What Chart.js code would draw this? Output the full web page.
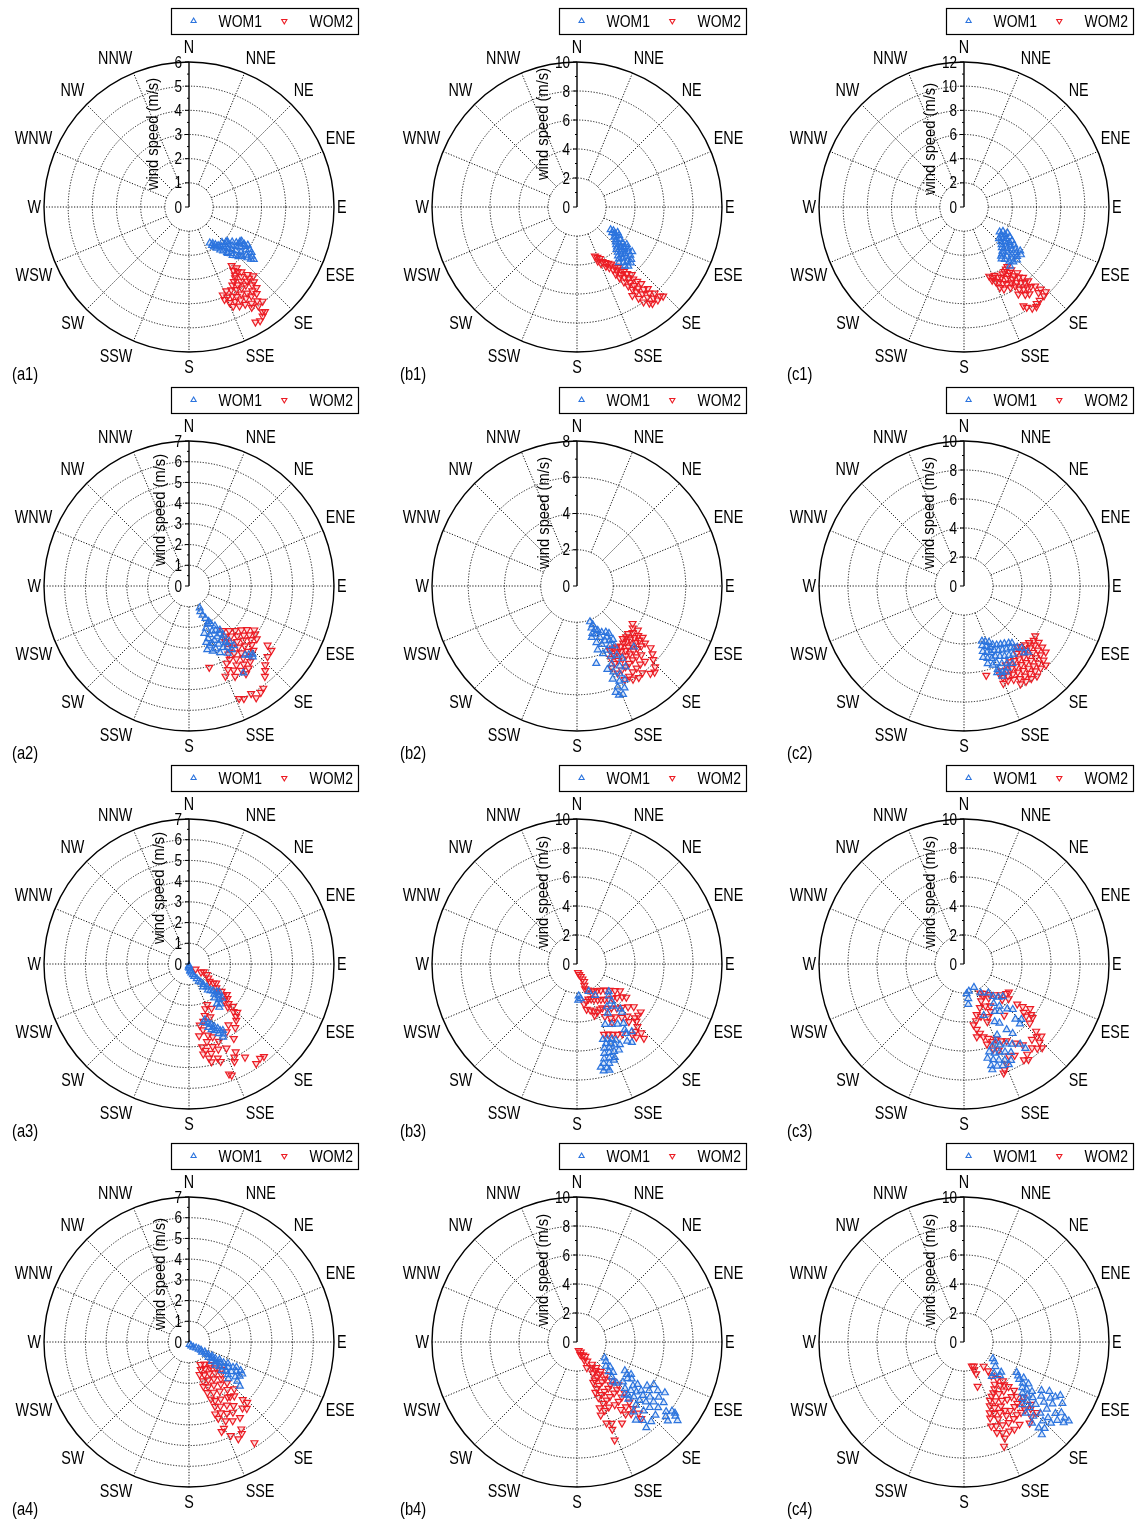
<!DOCTYPE html>
<html>
<head>
<meta charset="utf-8">
<title>Wind direction and speed, WOM1 vs WOM2</title>
<script src="https://cdn.jsdelivr.net/npm/chart.js@4.4.1/dist/chart.umd.min.js"></script>
<style>
  html, body { margin: 0; padding: 0; background: #fff; overflow: hidden; }
  #page { position: relative; width: 1146px; height: 1519px; }
  .panel { position: absolute; }
</style>
</head>
<body>
<div id="page"></div>
<script>
// ---- panel setup -------------------------------------------------------
const panelIds   = ['a1', 'b1', 'c1', 'a2', 'b2', 'c2', 'a3', 'b3', 'c3', 'a4', 'b4', 'c4'];
const speedMax   = [6, 10, 12, 7, 8, 10, 7, 10, 10, 7, 10, 10];   // outer ring (m/s)
const speedStep  = [1, 2, 2, 1, 2, 2, 1, 2, 2, 1, 2, 2];          // ring spacing (m/s)
const compass    = ['N', 'NNE', 'NE', 'ENE', 'E', 'ESE', 'SE', 'SSE',
                    'S', 'SSW', 'SW', 'WSW', 'W', 'WNW', 'NW', 'NNW'];
const seriesNames = ['WOM1', 'WOM2'];
const axisTitle  = 'wind speed (m/s)';

// ---- observations: [direction (deg from N, clockwise), speed (m/s)] ----
const a1Wom1 = [[150,1.72],[149,1.85],[148,1.95],[147,1.8],[146,2.05],[145,1.9],[144,2.2],[143,2.0],[142,2.3],[141,2.1],[140,2.45],[139,2.2],[138,2.6],[137,2.35],[136,2.15],[136,2.8],[135,2.5],[134,2.25],[134,2.95],[133,2.65],[132,2.4],[132,2.15],[131,2.85],[130,2.55],[130,3.1],[129,2.3],[128,2.7],[128,3.3],[127,2.95],[127,2.45],[126,3.2],[126,2.6],[125,2.85],[125,3.05],[124,2.55],[124,2.75],[123,2.9],[123,2.6],[129,3.45],[130,3.35],[131,3.2],[133,3.0],[135,2.9],[138,2.7],[140,2.5],[137,2.0],[133,2.1]];
const a1Wom2 = [[144,3.0],[142,3.2],[143,3.35],[145,3.2],[146,3.4],[141,3.45],[139,3.7],[137,3.9],[140,3.85],[143,3.6],[147,3.5],[149,3.6],[151,3.7],[148,3.8],[145,3.75],[142,3.9],[139,4.1],[141,4.15],[144,4.0],[147,4.0],[150,3.95],[153,3.85],[156,3.8],[159,3.9],[157,4.05],[154,4.1],[152,4.2],[149,4.2],[146,4.3],[143,4.35],[140,4.35],[142,4.55],[145,4.5],[148,4.45],[151,4.4],[154,4.35],[157,4.3],[159,4.1],[156,4.5],[153,4.6],[150,4.65],[147,4.75],[144,4.8],[142,4.95],[145,5.0],[148,4.9],[145,5.3],[146,5.45],[148,5.55],[150,5.5],[144,5.35]];

const b1Wom1 = [[124,2.8],[123,3.0],[126,3.0],[125,3.2],[122,3.3],[127,3.35],[124,3.5],[129,3.3],[130,3.5],[127,3.7],[132,3.6],[134,3.75],[131,3.9],[128,4.0],[135,3.9],[133,4.1],[130,4.25],[137,4.0],[127,4.3],[129,4.5],[132,4.4],[135,4.3],[138,4.2],[131,4.7],[134,4.6],[137,4.5],[140,4.4],[129,4.9],[132,4.95],[135,4.85],[138,4.75],[141,4.6],[143,4.8],[140,5.0],[137,5.1],[134,5.2],[139,5.4],[136,5.35],[141,5.25]];
const b1Wom2 = [[160,3.6],[158,3.75],[156,3.9],[159,4.0],[155,4.15],[157,4.25],[153,4.3],[151,4.45],[154,4.55],[149,4.6],[152,4.75],[147,4.85],[150,5.0],[146,5.05],[148,5.2],[145,5.3],[150,5.35],[144,5.5],[147,5.55],[149,5.7],[143,5.75],[146,5.85],[141,6.0],[144,6.05],[148,6.1],[142,6.3],[145,6.35],[147,6.5],[141,6.6],[144,6.7],[146,6.85],[140,6.9],[143,7.0],[148,7.2],[145,7.15],[141,7.3],[139,7.45],[143,7.5],[146,7.6],[140,7.75],[142,7.9],[145,8.0],[138,8.0],[140,8.2],[143,8.3],[137,8.4],[139,8.5],[142,8.45],[136,8.55]];

const c1Wom1 = [[125,3.6],[122,3.8],[127,3.85],[121,4.2],[124,4.1],[129,4.0],[132,3.9],[133,4.2],[127,4.35],[123,4.5],[130,4.45],[135,4.4],[137,4.6],[132,4.7],[128,4.8],[125,4.85],[139,4.85],[134,4.95],[130,5.05],[127,5.2],[141,5.0],[143,5.1],[136,5.2],[132,5.35],[129,5.5],[139,5.4],[142,5.5],[135,5.6],[131,5.75],[128,5.9],[133,6.0],[137,5.8],[140,5.85],[130,6.15],[135,6.2],[142,6.2],[138,6.1],[144,5.3]];
const c1Wom2 = [[160,6.1],[158,6.3],[156,6.2],[159,6.5],[154,6.45],[157,6.7],[152,6.6],[155,6.85],[150,6.4],[148,6.3],[146,6.2],[144,6.1],[153,7.1],[156,7.3],[154,7.55],[151,7.3],[149,6.9],[147,6.75],[145,6.6],[143,6.5],[141,7.0],[148,7.4],[146,7.2],[144,7.05],[142,7.35],[140,7.6],[150,7.7],[147,7.8],[145,7.6],[143,7.85],[141,8.0],[139,8.1],[146,8.2],[144,8.4],[142,8.5],[140,8.6],[138,8.8],[148,8.5],[145,8.85],[143,9.0],[137,9.3],[139,9.4],[136,9.75],[138,9.9],[141,9.95],[143,10.0],[146,10.1],[148,9.8],[149,9.55],[144,10.2]];

const a2Wom1 = [[154,1.18],[156,1.35],[155,1.55],[153,1.75],[151,1.95],[150,2.1],[154,2.05],[147,2.3],[158,2.2],[162,2.4],[145,2.6],[149,2.5],[153,2.45],[157,2.55],[160,2.7],[163,2.85],[147,2.75],[151,2.8],[155,2.9],[158,3.0],[161,3.05],[164,3.2],[149,3.05],[153,3.15],[145,2.9],[157,3.3],[160,3.35],[147,3.25],[151,3.4],[155,3.55],[148,3.5],[144,3.3],[146,3.7],[150,3.75],[143,3.6],[137,4.5],[139,4.4],[138,4.6],[148,4.95],[141,4.3]];
const a2Wom2 = [[143,2.7],[138,2.9],[134,3.1],[130,3.3],[127,3.5],[124,3.8],[126,3.95],[129,3.75],[132,3.55],[136,3.35],[140,3.15],[144,3.0],[147,3.2],[143,3.4],[139,3.55],[135,3.7],[131,3.95],[128,4.15],[133,4.15],[137,3.95],[141,3.8],[145,3.6],[148,3.55],[150,3.8],[146,3.9],[142,4.1],[138,4.25],[135,4.4],[139,4.5],[143,4.35],[147,4.2],[151,4.05],[154,4.15],[149,4.45],[145,4.6],[141,4.7],[144,4.9],[148,4.8],[152,4.6],[155,4.45],[158,4.7],[153,4.9],[147,5.05],[166,4.05],[127,4.75],[128,5.05],[132,5.1],[136,5.3],[140,5.7],[138,5.5],[154,6.05],[150,6.0],[149,6.3],[146,6.2],[144,6.1],[156,5.95]];

const b2Wom1 = [[160,2.1],[158,2.3],[161,2.45],[157,2.6],[162,2.75],[164,2.95],[159,2.85],[155,2.7],[152,2.9],[148,3.0],[146,3.15],[150,3.25],[156,3.1],[161,3.3],[146,3.55],[149,3.5],[153,3.4],[157,3.5],[162,3.7],[151,3.75],[155,3.9],[148,3.9],[159,4.0],[137,4.6],[150,4.4],[154,4.3],[166,4.4],[148,4.7],[156,4.7],[160,4.9],[152,5.0],[149,5.2],[157,5.15],[154,5.4],[159,5.5],[156,5.75],[158,6.0],[155,6.2],[157,6.5],[159,6.45],[160,6.25],[153,5.8]];
const b2Wom2 = [[124,3.7],[127,3.85],[130,4.0],[126,4.15],[133,3.85],[136,3.9],[139,3.85],[129,4.35],[132,4.25],[135,4.15],[138,4.1],[141,4.05],[144,4.1],[147,4.0],[150,3.95],[153,4.0],[128,4.6],[131,4.55],[134,4.5],[137,4.45],[140,4.4],[143,4.45],[146,4.35],[149,4.3],[152,4.35],[155,4.4],[130,4.9],[133,4.85],[136,4.8],[139,4.75],[142,4.75],[145,4.7],[148,4.75],[151,4.7],[154,4.75],[157,4.9],[130,5.3],[132,5.6],[134,5.85],[137,5.2],[140,5.1],[143,5.1],[146,5.15],[149,5.2],[152,5.25],[155,5.3],[138,5.6],[141,5.55],[144,5.6],[147,5.65],[150,5.75],[153,5.8],[143,6.0],[146,6.1],[149,6.0],[138,6.4],[136,6.2],[140,6.3]];

const c2Wom1 = [[162,4.0],[159,4.1],[156,4.25],[163,4.3],[160,4.45],[157,4.6],[154,4.5],[151,4.65],[148,4.75],[145,4.85],[142,5.0],[140,5.15],[164,4.7],[161,4.85],[158,4.95],[155,4.9],[152,5.05],[149,5.15],[146,5.25],[143,5.35],[141,5.5],[139,5.6],[137,5.85],[138,6.2],[165,5.1],[162,5.25],[159,5.35],[156,5.3],[153,5.45],[150,5.6],[147,5.7],[144,5.8],[163,5.6],[160,5.8],[157,5.75],[154,5.95],[151,6.1],[148,6.3],[158,6.2],[156,6.5],[159,6.4],[157,6.75],[154,6.6],[136,6.35],[152,6.4]];
const c2Wom2 = [[125,6.0],[128,6.1],[131,5.95],[134,5.85],[137,5.7],[139,5.55],[127,6.45],[130,6.35],[133,6.25],[136,6.15],[139,6.0],[142,5.9],[128,6.85],[131,6.75],[134,6.6],[137,6.5],[140,6.4],[143,6.3],[146,6.2],[149,6.1],[152,6.15],[129,7.25],[132,7.1],[135,7.0],[138,6.9],[141,6.8],[144,6.7],[147,6.6],[150,6.55],[153,6.5],[156,6.4],[158,6.6],[133,7.5],[136,7.4],[139,7.3],[142,7.2],[145,7.1],[148,7.0],[151,6.95],[154,6.9],[157,6.85],[134,7.85],[137,7.75],[140,7.65],[143,7.55],[146,7.5],[149,7.45],[152,7.3],[155,7.2],[158,7.25],[141,8.0],[144,7.9],[147,7.85],[150,7.8],[166,6.35]];

const a3Wom1 = [[180,0.08],[175,0.2],[170,0.35],[165,0.45],[160,0.55],[157,0.65],[152,0.8],[150,0.95],[147,1.05],[145,1.2],[148,1.3],[142,1.4],[144,1.55],[141,1.65],[138,1.75],[135,1.9],[140,1.9],[133,2.0],[137,2.1],[143,2.05],[136,2.3],[140,2.25],[145,2.35],[142,2.45],[145,2.55],[164,2.8],[166,2.9],[162,3.0],[160,3.1],[163,3.2],[158,3.25],[161,3.35],[156,3.4],[159,3.45],[155,3.55],[157,3.65],[154,3.75],[155,3.9],[153,3.6],[168,0.3],[185,0.15]];
const a3Wom2 = [[128,0.4],[118,0.8],[124,0.7],[126,1.15],[121,1.0],[130,1.3],[128,1.5],[131,1.75],[125,1.6],[134,1.9],[130,2.05],[133,2.25],[129,2.35],[132,2.5],[136,2.45],[135,2.7],[138,2.8],[134,2.95],[137,3.15],[138,3.4],[135,3.3],[140,3.55],[147,3.5],[151,3.75],[149,4.2],[144,3.8],[156,2.15],[160,2.3],[153,2.4],[163,2.6],[158,2.75],[166,2.85],[170,3.0],[168,3.25],[172,3.5],[165,3.55],[162,3.7],[167,3.85],[171,4.05],[159,4.0],[164,4.15],[169,4.25],[161,4.35],[166,4.45],[156,4.45],[171,4.4],[168,4.65],[163,4.75],[167,4.85],[162,4.95],[152,4.8],[155,5.2],[154,5.0],[149,5.25],[146,5.8],[141,5.75],[143,5.7],[160,5.65],[159,5.75]];

const b3Wom1 = [[177,2.2],[174,2.4],[178,2.5],[157,2.05],[150,2.5],[131,2.9],[135,3.1],[137,3.5],[139,3.85],[145,3.6],[148,4.0],[136,4.3],[137,4.55],[155,4.6],[150,4.8],[146,5.0],[142,5.2],[144,5.6],[145,5.85],[141,6.0],[145,6.6],[147,6.35],[161,5.5],[158,5.6],[155,5.7],[160,5.85],[157,5.95],[153,5.9],[162,6.1],[159,6.2],[155,6.15],[152,6.3],[163,6.45],[160,6.5],[157,6.55],[154,6.6],[164,6.8],[161,6.85],[158,6.95],[165,7.1],[162,7.2],[167,7.3],[164,7.45],[166,7.6],[163,7.65],[159,7.1]];
const b3Wom2 = [[173,0.6],[168,0.75],[163,0.9],[160,1.1],[158,1.3],[161,1.55],[162,1.8],[157,1.95],[153,2.25],[148,2.2],[143,2.3],[138,2.45],[133,2.65],[129,2.9],[125,3.2],[122,3.5],[170,2.8],[166,2.65],[162,2.55],[158,2.6],[154,2.7],[150,2.85],[146,2.95],[142,3.1],[138,3.25],[134,3.4],[130,3.6],[126,3.85],[124,4.1],[168,3.2],[164,3.3],[160,3.45],[161,3.75],[157,3.6],[153,3.5],[150,3.5],[146,3.7],[142,3.85],[138,4.1],[134,4.3],[130,4.6],[127,4.9],[127,5.5],[130,5.5],[133,5.45],[152,4.1],[148,4.4],[149,4.7],[144,4.5],[140,4.8],[136,5.0],[138,5.35],[134,5.7],[136,6.0],[139,6.15],[137,6.5],[138,6.9],[141,6.5],[142,6.2],[159,5.2],[156,5.3],[153,5.45],[150,5.6],[147,5.75]];

const c3Wom1 = [[157,1.75],[170,1.9],[175,2.05],[173,2.4],[174,2.8],[150,2.3],[140,2.6],[130,3.5],[134,3.3],[138,3.0],[143,3.4],[140,3.8],[143,4.1],[147,3.9],[136,4.3],[133,4.6],[159,3.8],[152,4.5],[149,4.75],[137,5.2],[137,5.65],[134,5.5],[147,5.4],[145,5.85],[155,5.4],[158,5.8],[161,6.0],[156,6.1],[152,6.25],[149,6.45],[145,6.75],[144,7.2],[164,6.3],[161,6.5],[158,6.55],[155,6.7],[152,6.9],[166,6.7],[163,6.9],[160,7.05],[157,7.2],[154,7.4],[165,7.25],[162,7.4],[165,7.55],[159,7.5],[156,7.6]];
const c3Wom2 = [[151,2.3],[146,2.45],[140,2.75],[135,3.0],[130,3.3],[125,3.55],[122,3.65],[149,2.6],[144,2.9],[133,3.6],[128,3.9],[155,2.8],[160,3.2],[153,3.25],[148,3.4],[151,3.75],[155,4.0],[158,4.3],[162,3.8],[166,3.6],[168,4.0],[171,4.25],[169,4.6],[167,4.9],[170,5.1],[165,5.2],[162,5.4],[164,5.75],[160,5.7],[157,5.65],[154,5.9],[151,6.05],[142,4.5],[127,4.6],[126,5.0],[129,5.3],[124,5.5],[127,5.8],[130,5.6],[132,6.1],[128,6.0],[133,6.8],[135,7.1],[138,7.0],[133,7.3],[136,7.5],[139,7.7],[137,7.9],[141,7.45],[144,6.9],[147,6.5],[145,7.6],[148,7.8],[146,7.95],[151,7.2],[154,7.05],[157,7.5],[160,8.0],[159,7.8],[161,6.2],[158,6.4]];

const a4Wom1 = [[165,0.12],[150,0.22],[140,0.33],[130,0.45],[126,0.58],[124,0.7],[128,0.8],[122,0.9],[126,1.0],[123,1.12],[128,1.2],[121,1.3],[125,1.35],[130,1.45],[122,1.5],[127,1.6],[131,1.7],[120,1.7],[124,1.8],[129,1.9],[121,1.95],[126,2.05],[131,2.1],[119,2.15],[123,2.25],[128,2.3],[120,2.45],[125,2.5],[130,2.45],[118,2.6],[122,2.7],[127,2.8],[119,2.85],[124,2.95],[129,3.0],[131,3.25],[121,3.0],[133,2.6]];
const a4Wom2 = [[153,1.22],[145,1.3],[137,1.5],[130,2.05],[134,1.8],[141,1.6],[149,1.5],[157,1.45],[162,1.65],[155,1.75],[147,1.8],[140,1.95],[135,2.2],[160,2.0],[153,2.05],[146,2.15],[139,2.35],[162,2.25],[157,2.35],[150,2.4],[143,2.55],[137,2.7],[160,2.6],[154,2.7],[148,2.8],[141,2.95],[136,3.15],[159,2.95],[156,3.1],[151,3.15],[145,3.25],[140,3.4],[143,3.3],[158,3.35],[154,3.45],[149,3.55],[137,3.8],[136,4.05],[139,4.25],[141,4.1],[145,3.75],[160,3.7],[156,3.75],[152,3.9],[148,4.0],[159,3.95],[155,4.2],[151,4.35],[146,4.4],[158,4.5],[156,4.95],[153,5.25],[150,5.1],[149,4.9],[147,5.8],[160,4.6]];

const b4Wom1 = [[120,2.2],[124,2.4],[130,2.6],[127,2.85],[133,3.0],[130,3.25],[135,3.4],[138,3.7],[136,3.95],[121,3.85],[123,4.1],[121,4.35],[124,4.55],[126,4.3],[131,4.2],[134,4.6],[138,4.9],[136,5.1],[132,5.0],[128,4.9],[125,5.1],[130,5.35],[134,5.45],[138,5.3],[127,5.55],[122,5.7],[119,6.05],[124,6.0],[129,5.85],[133,5.9],[137,5.95],[141,6.2],[131,6.3],[127,6.3],[121,6.5],[120,7.0],[124,6.8],[128,6.7],[132,6.75],[136,6.6],[143,6.75],[140,7.05],[125,7.3],[129,7.2],[133,7.4],[141,7.6],[137,7.5],[128,7.8],[126,8.1],[130,8.0],[127,8.5],[128,8.8],[126,8.35],[131,8.3]];
const b4Wom2 = [[169,0.6],[160,0.75],[165,0.9],[155,1.0],[150,1.15],[158,1.35],[152,1.5],[146,1.85],[159,1.9],[150,2.05],[143,2.2],[147,2.35],[153,2.4],[141,2.6],[145,2.7],[150,2.8],[155,2.9],[158,3.0],[139,3.0],[143,3.2],[148,3.25],[153,3.35],[157,3.5],[160,3.7],[138,3.6],[142,3.75],[146,3.85],[151,3.9],[155,4.0],[159,4.1],[136,4.1],[140,4.3],[144,4.35],[149,4.4],[153,4.5],[157,4.6],[161,4.8],[137,4.8],[141,4.9],[145,5.0],[149,5.05],[154,5.0],[158,5.1],[139,5.5],[143,5.6],[147,5.55],[140,6.0],[139,6.5],[140,6.9],[143,6.2],[146,6.0],[151,6.4],[160,5.95],[157,6.1],[158,6.5],[159,7.25],[162,5.3]];

const c4Wom1 = [[120,2.3],[123,2.5],[128,2.75],[136,3.0],[141,3.05],[133,3.4],[129,3.3],[120,4.2],[122,4.4],[124,4.6],[121,4.8],[125,4.95],[123,5.3],[127,5.4],[131,5.35],[128,5.1],[134,5.6],[130,5.7],[126,5.8],[137,5.9],[133,6.0],[129,6.1],[122,6.3],[120,6.8],[125,6.5],[131,6.55],[135,6.4],[139,6.5],[127,6.9],[123,7.1],[119,7.6],[121,7.35],[125,7.45],[129,7.35],[133,7.2],[137,7.0],[140,7.3],[132,7.8],[135,7.7],[139,7.85],[128,8.0],[126,8.3],[130,8.4],[133,8.2],[140,8.35],[127,8.7],[127,9.05],[129,8.85],[137,8.15],[122,8.0]];
const c4Wom2 = [[162,1.75],[158,1.8],[160,2.05],[159,2.35],[163,3.2],[141,2.15],[140,2.6],[141,3.0],[138,3.4],[135,3.8],[137,4.05],[140,3.9],[144,3.6],[147,3.85],[150,4.05],[153,4.2],[135,4.35],[141,4.35],[146,4.3],[156,4.4],[152,4.6],[158,4.75],[155,5.0],[134,4.8],[136,5.2],[139,5.0],[143,4.95],[147,4.8],[150,5.1],[160,5.2],[157,5.35],[161,5.55],[153,5.45],[149,5.5],[133,5.6],[136,5.75],[139,5.6],[142,5.65],[146,5.7],[150,5.85],[156,5.8],[133,6.3],[135,6.5],[138,6.3],[141,6.25],[144,6.2],[147,6.3],[151,6.35],[155,6.3],[159,6.2],[134,7.0],[138,6.95],[141,7.2],[146,6.85],[150,6.95],[153,6.9],[157,6.8],[160,6.65],[157,7.2],[159,7.7],[162,6.1]];

const panelSeries = {
  a1: [a1Wom1, a1Wom2], b1: [b1Wom1, b1Wom2], c1: [c1Wom1, c1Wom2],
  a2: [a2Wom1, a2Wom2], b2: [b2Wom1, b2Wom2], c2: [c2Wom1, c2Wom2],
  a3: [a3Wom1, a3Wom2], b3: [b3Wom1, b3Wom2], c3: [c3Wom1, c3Wom2],
  a4: [a4Wom1, a4Wom2], b4: [b4Wom1, b4Wom2], c4: [c4Wom1, c4Wom2]
};

// ---- page layout ---------------------------------------------------------
const colCenters = [189, 577, 964];
const rowCenters = [207, 586, 964, 1342];
const RADIUS = 145;                       // outer ring radius in px
const CANVAS_W = 382, CANVAS_H = 394, ORIGIN_X = 189, ORIGIN_Y = 207;
// axis-title placement relative to the pole, per panel
const titleOffset = [[-35, -73], [-33, -83], [-33, -68], [-28, -76], [-32, -73], [-34, -73],
                     [-29, -76], [-33, -72], [-33, -72], [-28, -68], [-33, -72], [-33, -72]];

const BLUE = '#2c74de';
const RED = '#ec1c24';
const BLUE_FILL = 'rgba(44,116,222,0.18)';
const RED_FILL = 'rgba(236,28,36,0.16)';
const FONT = "'Liberation Sans', Arial, Helvetica, sans-serif";
const NARROW = 0.82;

function drawText(ctx, s, x, y, size, align, baseline, scaleX, rot) {
  ctx.save();
  ctx.translate(x, y);
  if (rot) ctx.rotate(rot);
  ctx.scale(scaleX, 1);
  ctx.font = size + 'px ' + FONT;
  ctx.textAlign = align;
  ctx.textBaseline = baseline;
  ctx.fillStyle = '#000';
  ctx.fillText(s, 0, 0);
  ctx.restore();
}
function textWidth(ctx, s, size, scaleX) {
  ctx.save();
  ctx.font = size + 'px ' + FONT;
  const w = ctx.measureText(s).width * scaleX;
  ctx.restore();
  return w;
}
function triangle(ctx, x, y, r, down, color) {
  ctx.save();
  ctx.beginPath();
  const s = down ? -1 : 1;
  for (let k = 0; k < 3; k++) {
    const a = k * 2 * Math.PI / 3;
    const px = x + Math.sin(a) * r, py = y - s * Math.cos(a) * r;
    if (k === 0) ctx.moveTo(px, py); else ctx.lineTo(px, py);
  }
  ctx.closePath();
  ctx.strokeStyle = color;
  ctx.lineWidth = 1.1;
  ctx.stroke();
  ctx.restore();
}

function polarFrame(idx) {
  const max = speedMax[idx], step = speedStep[idx], id = panelIds[idx];
  return {
    id: 'polarFrame',
    beforeDatasetsDraw(chart) {
      const ctx = chart.ctx, xs = chart.scales.x, ys = chart.scales.y;
      const cx = xs.getPixelForValue(0), cy = ys.getPixelForValue(0);
      const rp = v => xs.getPixelForValue(v) - cx;
      const r0 = rp(step), R = rp(max);
      ctx.save();
      ctx.strokeStyle = '#111';
      ctx.lineWidth = 1;
      ctx.setLineDash([1.2, 1.6]);
      for (let v = step; v < max - 1e-9; v += step) {
        ctx.beginPath();
        ctx.arc(cx, cy, rp(v), 0, 2 * Math.PI);
        ctx.stroke();
      }
      for (let i = 1; i < 16; i++) {
        const a = i * Math.PI / 8;
        ctx.beginPath();
        ctx.moveTo(cx + r0 * Math.sin(a), cy - r0 * Math.cos(a));
        ctx.lineTo(cx + R * Math.sin(a), cy - R * Math.cos(a));
        ctx.stroke();
      }
      ctx.setLineDash([]);
      ctx.strokeStyle = '#000';
      ctx.lineWidth = 1.4;
      ctx.beginPath();
      ctx.arc(cx, cy, R, 0, 2 * Math.PI);
      ctx.stroke();
      ctx.restore();
    },
    afterDatasetsDraw(chart) {
      const ctx = chart.ctx, xs = chart.scales.x, ys = chart.scales.y;
      const cx = xs.getPixelForValue(0), cy = ys.getPixelForValue(0);
      const R = xs.getPixelForValue(max) - cx;
      ctx.save();
      // radial speed axis along north
      ctx.strokeStyle = '#000';
      ctx.lineWidth = 1.4;
      ctx.beginPath();
      ctx.moveTo(cx, cy);
      ctx.lineTo(cx, ys.getPixelForValue(max));
      ctx.stroke();
      ctx.lineWidth = 1;
      for (let v = 0; v <= max + 1e-9; v += step) {
        const py = ys.getPixelForValue(v);
        ctx.beginPath();
        ctx.moveTo(cx - 4, py);
        ctx.lineTo(cx, py);
        ctx.stroke();
        drawText(ctx, String(v), cx - 7, py + 1, 16.5, 'right', 'middle', NARROW);
      }
      for (let v = step / 2; v < max; v += step) {
        const py = ys.getPixelForValue(v);
        ctx.beginPath();
        ctx.moveTo(cx - 2, py);
        ctx.lineTo(cx, py);
        ctx.stroke();
      }
      ctx.restore();
      // axis title
      const t = titleOffset[idx];
      drawText(ctx, axisTitle, cx + t[0], cy + t[1], 16, 'center', 'middle', 0.92, -Math.PI / 2);
      // compass point labels
      const D = R + 3, H = 24;
      compass.forEach((lab, i) => {
        const a = i * Math.PI / 8, s = Math.sin(a), c = Math.cos(a);
        const sx = Math.abs(s) < 0.01 ? 0 : Math.sign(s);
        const sy = Math.abs(c) < 0.01 ? 0 : Math.sign(c);
        const w = textWidth(ctx, lab, 17.5, NARROW);
        const x = cx + D * s + sx * w / 2;
        const y = cy - D * c - sy * H / 2;
        drawText(ctx, lab, x, y + 1, 17.5, 'center', 'middle', NARROW);
      });
      // legend box
      ctx.save();
      ctx.strokeStyle = '#000';
      ctx.lineWidth = 1.2;
      ctx.strokeRect(Math.round(cx - 18.5) + 0.5, Math.round(cy - 199.5) + 0.5, 187, 26);
      ctx.restore();
      const ly = cy - 186;
      triangle(ctx, cx + 4.6, ly, 3, false, BLUE);
      drawText(ctx, seriesNames[0], cx + 29.6, ly + 1, 17, 'left', 'middle', NARROW);
      triangle(ctx, cx + 95.3, ly, 3, true, RED);
      drawText(ctx, seriesNames[1], cx + 120.6, ly + 1, 17, 'left', 'middle', NARROW);
      // panel tag
      drawText(ctx, '(' + id + ')', cx - 177, cy + 168, 18, 'left', 'middle', NARROW);
    }
  };
}

function toXY(list) {
  return list.map(([dir, spd]) => {
    const a = dir * Math.PI / 180;
    return { x: spd * Math.sin(a), y: spd * Math.cos(a) };
  });
}

const page = document.getElementById('page');
panelIds.forEach((id, idx) => {
  const col = idx % 3, row = Math.floor(idx / 3);
  const cx = colCenters[col], cy = rowCenters[row];
  const wrap = document.createElement('div');
  wrap.className = 'panel';
  wrap.style.left = (cx - ORIGIN_X) + 'px';
  wrap.style.top = (cy - ORIGIN_Y) + 'px';
  wrap.style.width = CANVAS_W + 'px';
  wrap.style.height = CANVAS_H + 'px';
  const cv = document.createElement('canvas');
  cv.width = CANVAS_W; cv.height = CANVAS_H;
  cv.style.width = CANVAS_W + 'px'; cv.style.height = CANVAS_H + 'px';
  wrap.appendChild(cv);
  page.appendChild(wrap);

  const max = speedMax[idx];
  const [s1, s2] = panelSeries[id];
  new Chart(cv, {
    type: 'scatter',
    data: {
      datasets: [
        { label: seriesNames[0], data: toXY(s1), pointStyle: 'triangle', pointRotation: 0,
          pointRadius: 4, borderColor: BLUE, backgroundColor: BLUE_FILL, borderWidth: 1.2 },
        { label: seriesNames[1], data: toXY(s2), pointStyle: 'triangle', pointRotation: 180,
          pointRadius: 4, borderColor: RED, backgroundColor: RED_FILL, borderWidth: 1.2 }
      ]
    },
    options: {
      responsive: false,
      animation: false,
      events: [],
      layout: { padding: { left: ORIGIN_X - RADIUS, top: ORIGIN_Y - RADIUS,
                           right: CANVAS_W - ORIGIN_X - RADIUS, bottom: CANVAS_H - ORIGIN_Y - RADIUS } },
      scales: {
        x: { type: 'linear', min: -max, max: max, display: false },
        y: { type: 'linear', min: -max, max: max, display: false }
      },
      plugins: { legend: { display: false }, tooltip: { enabled: false } }
    },
    plugins: [polarFrame(idx)]
  });
});
</script>
</body>
</html>
